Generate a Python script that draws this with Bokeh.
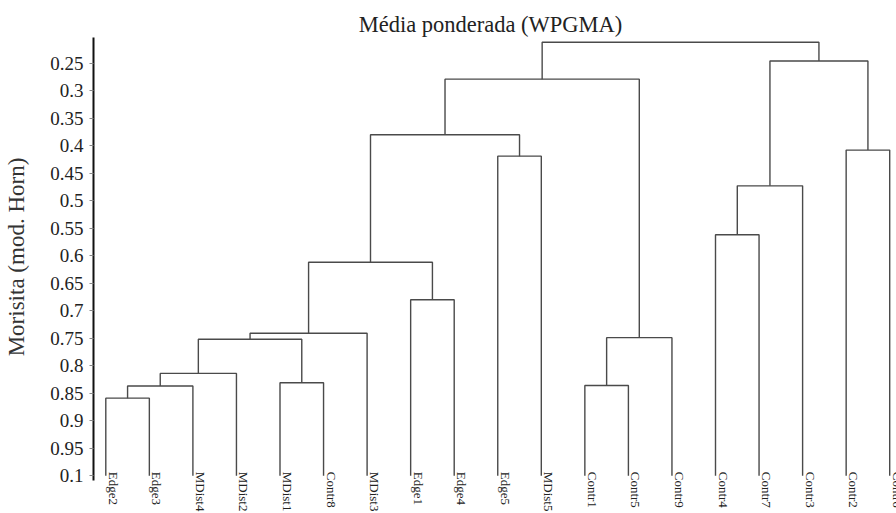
import math
from bokeh.plotting import figure
from bokeh.models import Range1d, FixedTicker, ColumnDataSource
from bokeh.core.properties import value
from bokeh.embed import file_html
from bokeh.resources import INLINE

# ---------------- data ----------------
title = "Média ponderada (WPGMA)"
y_label = "Morisita (mod. Horn)"

leaves = ["Edge2", "Edge3", "MDist4", "MDist2", "MDist1", "Contr8", "MDist3",
          "Edge1", "Edge4", "Edge5", "MDist5", "Contr1", "Contr5", "Contr9",
          "Contr4", "Contr7", "Contr3", "Contr2", "Contr6"]
leaf_level = 1.0

# merges: ids 0..18 are leaves, merge k gets id 19+k
merge_left = [0, 19, 20, 4, 21, 23, 7, 24, 9, 26, 11, 29, 28, 14, 32, 17, 33, 31]
merge_right = [1, 2, 3, 5, 22, 6, 8, 25, 10, 27, 12, 13, 30, 15, 16, 18, 34, 35]
merge_height = [0.859, 0.837, 0.814, 0.831, 0.752, 0.741, 0.680, 0.612, 0.419,
                0.380, 0.836, 0.749, 0.279, 0.562, 0.473, 0.408, 0.246, 0.212]

tick_values = [0.25, 0.3, 0.35, 0.4, 0.45, 0.5, 0.55, 0.6, 0.65, 0.7, 0.75,
               0.8, 0.85, 0.9, 0.95, 1.0]
tick_labels = ["0.25", "0.3", "0.35", "0.4", "0.45", "0.5", "0.55", "0.6",
               "0.65", "0.7", "0.75", "0.8", "0.85", "0.9", "0.95", "0.1"]

# ---------------- build dendrogram links ----------------
n = len(leaves)
pos = {i: float(i) for i in range(n)}
hgt = {i: leaf_level for i in range(n)}
xs, ys = [], []
for k, (a, b, h) in enumerate(zip(merge_left, merge_right, merge_height)):
    xs.append([pos[a], pos[a], pos[b], pos[b]])
    ys.append([hgt[a], h, h, hgt[b]])
    nid = n + k
    pos[nid] = (pos[a] + pos[b]) / 2.0
    hgt[nid] = h

SERIF = "Liberation Serif"

p = figure(width=896, height=513, output_backend="svg", toolbar_location=None,
           x_range=Range1d(-0.2824, 18.156), y_range=Range1d(1.0687, 0.1360),
           x_axis_location=None, min_border_left=93, min_border_right=0,
           min_border_top=0, min_border_bottom=0)
p.outline_line_color = None
p.grid.visible = False
p.background_fill_color = "white"
p.border_fill_color = "white"

p.multi_line(xs=xs, ys=ys, line_color="#4a4a4a", line_width=1.4)

# leaf labels
src = ColumnDataSource(dict(x=list(range(n)), y=[leaf_level] * n, t=leaves))
p.text(x="x", y="y", text="t", source=src, angle=-math.pi / 2,
       text_align="left", text_baseline="bottom", y_offset=-4,
       text_font=value(SERIF), text_font_size="13px", text_color="#222222")

# title
p.text(x=[8.834], y=[0.1796], text=[title], text_align="center",
       text_baseline="alphabetic", text_font=value(SERIF),
       text_font_size="22.5px", text_color="#222222")

ax = p.yaxis[0]
ax.ticker = FixedTicker(ticks=tick_values)
ax.major_label_overrides = {v: s for v, s in zip(tick_values, tick_labels)}
ax.bounds = (0.2033, 1.009)
ax.axis_line_color = "#111111"
ax.axis_line_width = 2
ax.major_tick_line_color = "#888888"
ax.major_tick_out = 4
ax.major_tick_in = 0
ax.minor_tick_out = 0
ax.minor_tick_in = 0
ax.major_label_standoff = 6
ax.major_label_text_font = SERIF
ax.major_label_text_font_size = "19px"
ax.major_label_text_color = "#222222"
ax.axis_label = y_label
ax.axis_label_text_font = SERIF
ax.axis_label_text_font_size = "23px"
ax.axis_label_text_font_style = "normal"
ax.axis_label_text_color = "#333333"
ax.axis_label_standoff = 18

open("out.html", "w").write(file_html(p, INLINE))
